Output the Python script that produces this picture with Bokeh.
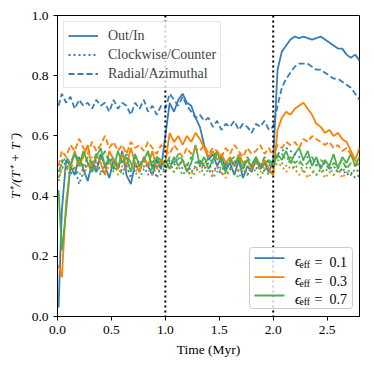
from bokeh.plotting import figure
from bokeh.models import (Range1d, FixedTicker, Span, Legend, LegendItem, Label,
                          BoxAnnotation, PolyAnnotation)
from bokeh.embed import file_html
from bokeh.resources import INLINE

time_myr = [0.01, 0.04, 0.08, 0.12, 0.16, 0.20, 0.24, 0.28, 0.32, 0.36,
            0.40, 0.44, 0.48, 0.52, 0.56, 0.60, 0.64, 0.68, 0.72, 0.76,
            0.80, 0.84, 0.88, 0.92, 0.96, 1.00, 1.04, 1.08, 1.12, 1.16,
            1.20, 1.24, 1.28, 1.32, 1.36, 1.40, 1.44, 1.48, 1.52, 1.56,
            1.60, 1.64, 1.68, 1.72, 1.76, 1.80, 1.84, 1.88, 1.92, 1.96,
            2.00, 2.04, 2.08, 2.12, 2.16, 2.20, 2.24, 2.28, 2.32, 2.36,
            2.40, 2.44, 2.48, 2.52, 2.56, 2.60, 2.64, 2.68, 2.72, 2.76,
            2.80]

# eff = 0.1 (blue)
blue_outin = [0.03, 0.35, 0.52, 0.50, 0.47, 0.53, 0.49, 0.45, 0.51, 0.48,
              0.54, 0.50, 0.46, 0.52, 0.49, 0.55, 0.47, 0.44, 0.51, 0.48,
              0.53, 0.50, 0.47, 0.52, 0.49, 0.60, 0.71, 0.68, 0.72, 0.74,
              0.71, 0.70, 0.66, 0.63, 0.57, 0.52, 0.54, 0.50, 0.53, 0.49,
              0.51, 0.47, 0.52, 0.46, 0.50, 0.48, 0.52, 0.49, 0.51, 0.48,
              0.52, 0.82, 0.88, 0.90, 0.92, 0.93, 0.925, 0.93, 0.925, 0.92,
              0.925, 0.93, 0.92, 0.91, 0.90, 0.89, 0.89, 0.87, 0.86, 0.87,
              0.85]
blue_radaz = [0.70, 0.74, 0.71, 0.73, 0.69, 0.72, 0.70, 0.71, 0.69, 0.72,
              0.70, 0.71, 0.68, 0.72, 0.69, 0.71, 0.70, 0.67, 0.71, 0.69,
              0.72, 0.68, 0.70, 0.67, 0.70, 0.69, 0.74, 0.72, 0.70, 0.73,
              0.70, 0.68, 0.66, 0.67, 0.65, 0.66, 0.63, 0.65, 0.62, 0.64,
              0.63, 0.65, 0.62, 0.64, 0.63, 0.61, 0.64, 0.63, 0.65, 0.62,
              0.63, 0.70, 0.76, 0.79, 0.81, 0.83, 0.84, 0.84, 0.84, 0.83,
              0.82, 0.82, 0.81, 0.80, 0.79, 0.79, 0.78, 0.77, 0.76, 0.74,
              0.72]
blue_clock = [0.45, 0.52, 0.50, 0.47, 0.50, 0.44, 0.48, 0.51, 0.49, 0.52,
              0.48, 0.50, 0.53, 0.49, 0.51, 0.48, 0.50, 0.46, 0.49, 0.52,
              0.50, 0.47, 0.51, 0.46, 0.50, 0.48, 0.52, 0.50, 0.53, 0.49,
              0.51, 0.48, 0.50, 0.52, 0.49, 0.51, 0.48, 0.50, 0.47, 0.51,
              0.49, 0.52, 0.48, 0.50, 0.47, 0.50, 0.49, 0.51, 0.48, 0.50,
              0.52, 0.54, 0.55, 0.56, 0.55, 0.54, 0.53, 0.52, 0.53, 0.51,
              0.52, 0.50, 0.51, 0.49, 0.50, 0.48, 0.49, 0.47, 0.48, 0.46,
              0.47]

# eff = 0.3 (orange)
orange_outin = [0.17, 0.13, 0.38, 0.50, 0.55, 0.50, 0.53, 0.57, 0.49, 0.54,
                0.51, 0.47, 0.55, 0.52, 0.49, 0.54, 0.50, 0.56, 0.51, 0.48,
                0.53, 0.50, 0.55, 0.49, 0.52, 0.51, 0.61, 0.58, 0.60, 0.57,
                0.60, 0.58, 0.61, 0.59, 0.56, 0.53, 0.55, 0.52, 0.54, 0.51,
                0.53, 0.50, 0.54, 0.51, 0.52, 0.49, 0.53, 0.50, 0.52, 0.49,
                0.47, 0.62, 0.66, 0.68, 0.67, 0.69, 0.70, 0.71, 0.69, 0.67,
                0.64, 0.63, 0.61, 0.62, 0.60, 0.61, 0.59, 0.58, 0.55, 0.52,
                0.56]
orange_radaz = [0.50, 0.55, 0.53, 0.57, 0.55, 0.59, 0.56, 0.54, 0.58, 0.55,
                0.57, 0.60, 0.56, 0.58, 0.55, 0.57, 0.54, 0.58, 0.56, 0.57,
                0.55, 0.58, 0.56, 0.54, 0.57, 0.55, 0.54, 0.57, 0.55, 0.53,
                0.56, 0.54, 0.56, 0.55, 0.57, 0.54, 0.56, 0.55, 0.53, 0.56,
                0.54, 0.57, 0.55, 0.53, 0.56, 0.54, 0.55, 0.57, 0.54, 0.56,
                0.53, 0.57, 0.56, 0.58, 0.57, 0.58, 0.56, 0.59, 0.58, 0.60,
                0.59, 0.58, 0.57, 0.58, 0.56, 0.57, 0.55, 0.56, 0.54, 0.52,
                0.50]
orange_clock = [0.45, 0.50, 0.48, 0.51, 0.49, 0.52, 0.47, 0.50, 0.53, 0.49,
                0.51, 0.48, 0.50, 0.52, 0.47, 0.50, 0.49, 0.51, 0.48, 0.50,
                0.52, 0.49, 0.47, 0.50, 0.51, 0.49, 0.51, 0.48, 0.50, 0.52,
                0.49, 0.47, 0.50, 0.48, 0.51, 0.49, 0.47, 0.50, 0.48, 0.46,
                0.49, 0.51, 0.48, 0.50, 0.47, 0.49, 0.51, 0.48, 0.50, 0.47,
                0.49, 0.51, 0.50, 0.48, 0.50, 0.49, 0.47, 0.49, 0.46, 0.48,
                0.47, 0.49, 0.46, 0.48, 0.47, 0.49, 0.46, 0.48, 0.47, 0.49,
                0.48]

# eff = 0.7 (green)
green_outin = [0.42, 0.22, 0.35, 0.50, 0.54, 0.50, 0.55, 0.51, 0.48, 0.53,
               0.56, 0.50, 0.52, 0.49, 0.55, 0.51, 0.53, 0.48, 0.54, 0.50,
               0.52, 0.55, 0.49, 0.53, 0.50, 0.52, 0.49, 0.53, 0.50, 0.52,
               0.48, 0.51, 0.57, 0.50, 0.53, 0.49, 0.52, 0.55, 0.51, 0.48,
               0.52, 0.50, 0.53, 0.49, 0.52, 0.50, 0.53, 0.49, 0.51, 0.52,
               0.50, 0.54, 0.52, 0.55, 0.51, 0.54, 0.56, 0.52, 0.55, 0.50,
               0.53, 0.49, 0.52, 0.50, 0.54, 0.49, 0.53, 0.51, 0.54, 0.50,
               0.53]
green_radaz = [0.48, 0.51, 0.53, 0.51, 0.54, 0.52, 0.50, 0.53, 0.51, 0.54,
               0.52, 0.55, 0.51, 0.53, 0.50, 0.52, 0.54, 0.51, 0.53, 0.50,
               0.52, 0.54, 0.51, 0.53, 0.52, 0.50, 0.53, 0.51, 0.54, 0.52,
               0.50, 0.53, 0.51, 0.52, 0.50, 0.53, 0.51, 0.54, 0.52, 0.50,
               0.52, 0.53, 0.51, 0.50, 0.53, 0.51, 0.52, 0.50, 0.53, 0.51,
               0.52, 0.53, 0.54, 0.52, 0.53, 0.51, 0.52, 0.50, 0.51, 0.53,
               0.50, 0.52, 0.51, 0.49, 0.51, 0.50, 0.52, 0.49, 0.51, 0.50,
               0.51]
green_clock = [0.46, 0.49, 0.51, 0.48, 0.50, 0.47, 0.49, 0.52, 0.48, 0.50,
               0.47, 0.49, 0.51, 0.48, 0.50, 0.47, 0.49, 0.51, 0.48, 0.46,
               0.49, 0.51, 0.48, 0.50, 0.47, 0.49, 0.51, 0.48, 0.50, 0.47,
               0.49, 0.46, 0.48, 0.50, 0.47, 0.49, 0.46, 0.48, 0.50, 0.47,
               0.49, 0.48, 0.46, 0.49, 0.47, 0.50, 0.48, 0.46, 0.49, 0.47,
               0.50, 0.52, 0.51, 0.50, 0.52, 0.49, 0.51, 0.48, 0.50, 0.49,
               0.47, 0.49, 0.48, 0.50, 0.47, 0.49, 0.48, 0.50, 0.47, 0.49,
               0.48]

eff_labels = ["0.1", "0.3", "0.7"]
style_labels = ["Out/In", "Clockwise/Counter", "Radial/Azimuthal"]
event_times = [1.0, 2.0]
x_ticks = [0.0, 0.5, 1.0, 1.5, 2.0, 2.5]
y_ticks = [0.0, 0.2, 0.4, 0.6, 0.8, 1.0]

colors = ["#377eb8", "#ff7f00", "#4daf4a"]
FONT = "Liberation Serif, serif"

p = figure(width=374, height=366, output_backend="svg", toolbar_location=None,
           x_range=Range1d(0, 2.8), y_range=Range1d(0, 1),
           min_border_left=57, min_border_right=15, min_border_top=15, min_border_bottom=50)
p.background_fill_color = "white"
p.border_fill_color = "white"
p.outline_line_color = "black"
p.outline_line_width = 1
p.xgrid.visible = False
p.ygrid.visible = False

p.xaxis.ticker = FixedTicker(ticks=x_ticks)
p.yaxis.ticker = FixedTicker(ticks=y_ticks)
p.xaxis.major_label_overrides = {v: f"{v:.1f}" for v in x_ticks}
p.yaxis.major_label_overrides = {v: f"{v:.1f}" for v in y_ticks}
for ax in (p.xaxis, p.yaxis):
    ax.axis_line_color = "black"
    ax.major_tick_line_color = "black"
    ax.major_tick_out = 4
    ax.major_tick_in = 0
    ax.minor_tick_line_color = None
    ax.major_label_text_font = FONT
    ax.major_label_text_font_size = "13.5px"
    ax.major_label_text_color = "black"
    ax.axis_label_text_font = FONT
    ax.axis_label_text_font_size = "13.5px"
    ax.axis_label_text_color = "black"
    ax.axis_label_text_font_style = "normal"
    ax.major_label_standoff = 5
p.xaxis.axis_label = "Time (Myr)"
p.yaxis.axis_label = "T\u207a/(T\u207a + T\u207b)"
p.yaxis.axis_label_text_font_style = "italic"
p.yaxis.axis_label_standoff = 6

series = [
    (blue_outin, blue_clock, blue_radaz),
    (orange_outin, orange_clock, orange_radaz),
    (green_outin, green_clock, green_radaz),
]
dashes = ["solid", "2 3", "6 3"]
renderers = {}
for s_idx, dash in enumerate(dashes):
    for c_idx, col in enumerate(colors):
        r = p.line(time_myr, series[c_idx][s_idx], line_color=col,
                   line_width=1.8, line_dash=dash)
        renderers[(c_idx, s_idx)] = r

for t in event_times:
    p.add_layout(Span(location=t, dimension="height", line_color="black",
                      line_width=2, line_dash="2 3"))

# ---- legend 1: line styles (Bokeh legend) ----
leg1 = Legend(items=[LegendItem(label=style_labels[i], renderers=[renderers[(0, i)]])
                     for i in range(3)],
              location="top_left", margin=6)
leg1.label_text_font = FONT
leg1.label_text_font_size = "14px"
leg1.background_fill_color = "white"
leg1.background_fill_alpha = 0.8
leg1.border_line_color = "#cccccc"
leg1.border_line_width = 1
leg1.glyph_width = 30
leg1.glyph_height = 19
leg1.label_height = 19
leg1.label_standoff = 10
leg1.padding = 4
leg1.spacing = 0
p.add_layout(leg1)

# ---- legend 2: efficiencies (built from screen-space annotations) ----
# frame-relative screen positions (x from frame left, y up from frame bottom)
BOX = dict(left=192, right=295, bottom=8, top=69)
ROWS = [58.3, 39.3, 21.0]
GLYPH_X = [197, 227]
TXT_X = 237.5

box2 = BoxAnnotation(left=BOX["left"], right=BOX["right"], bottom=BOX["bottom"], top=BOX["top"],
                     left_units="screen", right_units="screen",
                     bottom_units="screen", top_units="screen",
                     fill_color="white", fill_alpha=0.8,
                     line_color="#cccccc", line_width=1, line_alpha=1.0)
try:
    box2.border_radius = 3
except Exception:
    pass
p.add_layout(box2)

for i, cy in enumerate(ROWS):
    p.add_layout(PolyAnnotation(xs=GLYPH_X, ys=[cy, cy], xs_units="screen", ys_units="screen",
                                line_color=colors[i], line_width=1.8, line_alpha=1.0,
                                fill_alpha=0))
    p.add_layout(Label(x=TXT_X, y=cy - 3.5, x_units="screen", y_units="screen",
                       text="\u03f5", text_font=FONT, text_font_size="14px",
                       text_font_style="italic", text_baseline="alphabetic",
                       text_color="black"))
    p.add_layout(Label(x=TXT_X + 4.5, y=cy - 6.5, x_units="screen", y_units="screen",
                       text="eff", text_font=FONT, text_font_size="9.5px",
                       text_baseline="alphabetic", text_color="black"))
    p.add_layout(Label(x=TXT_X + 19.5, y=cy - 4, x_units="screen", y_units="screen",
                       text="=\u2002" + eff_labels[i], text_font=FONT, text_font_size="14px",
                       text_baseline="alphabetic", text_color="black"))

open("out.html", "w").write(file_html(p, INLINE))
